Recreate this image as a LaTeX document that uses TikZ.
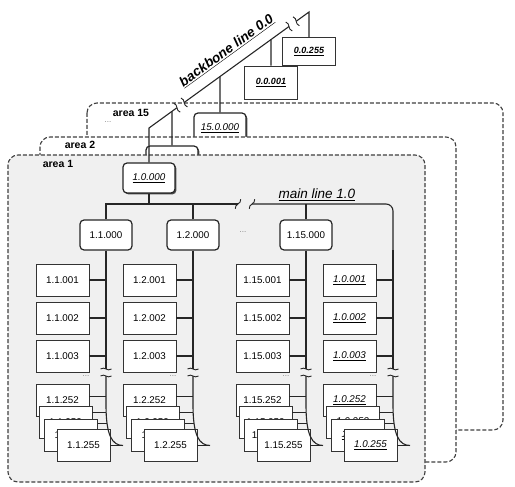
\documentclass[tikz,border=0pt]{standalone}
\usepackage{fontspec}
\setmainfont{Liberation Sans}
\usetikzlibrary{calc,shadows}

\newcommand{\itul}[1]{\textit{\underline{#1}}}

\tikzset{
  areabg/.style={draw=black!75, line width=1.1pt, dash pattern=on 4pt off 2pt, rounded corners=10pt},
  arealbl/.style={font=\fontsize{10.5}{12}\selectfont\bfseries},
  wire/.style={draw=black!85, line width=1.1pt},
  leaf/.style={draw=black!80, fill=white, line width=0.8pt, minimum width=53pt, minimum height=32pt, inner sep=0pt, font=\fontsize{9.8}{11}\selectfont},
  lvlbox/.style={draw=black!85, fill=white, line width=1.2pt, rounded corners=4pt, minimum width=52pt, minimum height=30pt, inner sep=0pt, font=\fontsize{9.8}{11}\selectfont},
  rootbox/.style={lvlbox, drop shadow={shadow xshift=1.4pt, shadow yshift=-1.4pt, fill=black!70, opacity=1}},
  bbbox/.style={draw=black!80, fill=white, line width=0.8pt, minimum width=53pt, minimum height=28pt, inner sep=0pt, font=\fontsize{9}{11}\selectfont\bfseries},
  ellip/.style={text=black!50, font=\fontsize{8}{9}\selectfont},
  brk/.pic={\draw[black!85, line width=0.9pt] (0,-5.5) .. controls (3,-1.5) and (-3,1.5) .. (0,5.5);}
}

\begin{document}
\begin{tikzpicture}[x=1pt, y=-1pt]
  \useasboundingbox (0,0) rectangle (515,487);

  %% area 15
  \draw[areabg, fill=white] (87,103) rectangle (503,430);
  \node[arealbl] (a15) at (131,113) {area 15};
  \node[ellip] (a15dots) at (108,122) {...};
  \node[rootbox] (root15) at (220,128) {\itul{15.0.000}};

  %% area 2
  \draw[areabg, fill=white] (40,137) rectangle (456,462);
  \node[arealbl] (a2) at (80,145) {area 2};
  \node[rootbox] (root2) at (172,161) {};

  %% area 1
  \draw[areabg, fill=black!6] (8,155) rectangle (425,482);
  \node[arealbl] (a1) at (58,164) {area 1};
  \node[rootbox] (root1) at (149,178) {\itul{1.0.000}};

  %% main line 1.0
  \node[lvlbox] (lv1) at (106,235) {1.1.000};
  \node[lvlbox] (lv2) at (193,235) {1.2.000};
  \node[lvlbox] (lv15) at (306,235) {1.15.000};
  \node[ellip] (lvdots) at (243,232) {...};
  \coordinate (lv10) at (393,250);
  \coordinate (mlA) at (238,204);
  \coordinate (mlB) at (252,204);
  \draw[wire] (lv1.north) |- (mlA);
  \draw[wire, rounded corners=7pt] (mlB) -| (lv10);
  \draw[wire] (root1.south) -- (root1.south |- mlA);
  \draw[wire] (lv2.north) -- (lv2.north |- mlA);
  \draw[wire] (lv15.north) -- (lv15.north |- mlA);
  \path pic[rotate=-30] at (mlA) {brk};
  \path pic[rotate=-30] at (mlB) {brk};
  \node[font=\fontsize{13.5}{15}\selectfont\itshape, anchor=base] (mltext) at (317,199) {\underline{main line 1.0}};

  %% columns
  \foreach \cx/\pre/\fmt/\bus [count=\i] in
    {106/1.1/\mbox/lv1.south, 193/1.2/\mbox/lv2.south,
     306/1.15/\mbox/lv15.south, 393/1.0/\itul/lv10}
  {
    \coordinate (bt) at (\cx,369);
    \coordinate (bb) at (\cx,376);
    \coordinate (be) at (\cx+17,445.5);
    \node[leaf] (c\i-1) at (\cx-43.5,280) {\fmt{\pre.001}};
    \node[leaf] (c\i-2) at (\cx-43.5,318) {\fmt{\pre.002}};
    \node[leaf] (c\i-3) at (\cx-43.5,356) {\fmt{\pre.003}};
    \draw[wire] (c\i-1.east) -- (c\i-1.east -| bt);
    \draw[wire] (c\i-2.east) -- (c\i-2.east -| bt);
    \draw[wire] (c\i-3.east) -- (c\i-3.east -| bt);
    \node[ellip] (d\i) at (\cx-20,376) {...};
    \node[leaf] (c\i-4) at (\cx-43.5,400) {\fmt{\pre.252}};
    \draw[wire] ($(c\i-4.north east)+(0,13)$) -- ($(c\i-4.north east -| bt)+(0,13)$);
    \node[leaf] (c\i-5) at (\cx-40.5,422) {\fmt{\pre.253}};
    \draw[wire] ($(c\i-5.north east)+(0,7)$) -- ($(c\i-5.north east -| bt)+(0.2,7)$);
    \node[leaf] (c\i-6) at (\cx-35,435) {\fmt{\pre.254}};
    \draw[wire] ($(c\i-6.north east)+(0,5)$) -- ($(c\i-6.north east -| bt)+(1.3,5)$);
    \node[leaf] (c\i-7) at (\cx-22.5,445.5) {\fmt{\pre.255}};
    \draw[wire] (c\i-7.east) -- (be);
    \draw[wire] (\bus) -- (bt);
    \draw[wire] (bb) -- (\cx,405) .. controls (\cx,435) and (\cx+6,445.5) .. (be);
    \path pic[rotate=90] at (bt) {brk};
    \path pic[rotate=90] at (bb) {brk};
  }

  %% backbone line 0.0
  \node[bbbox] (n255) at (309,51.5) {\itul{0.0.255}};
  \node[bbbox, minimum height=33pt] (n001) at (271,82.5) {\itul{0.0.001}};
  \coordinate (bb0) at (149,128);
  \coordinate (bbE) at (309,12);
  \coordinate (bbA) at ($(bb0)!0.175!(bbE)$);
  \coordinate (bbB) at ($(bb0)!0.22!(bbE)$);
  \coordinate (bbC) at ($(bb0)!0.875!(bbE)$);
  \coordinate (bbD) at ($(bb0)!0.92!(bbE)$);
  \draw[wire] (root1.north) -- (bb0) -- (bbA);
  \draw[wire] (bbB) -- (bbC);
  \draw[wire] (bbD) -- (bbE) -- (n255.north);
  \draw[wire] (root2.north) -- (intersection of bb0--bbE and root2.north--root2.south);
  \draw[wire] (root15.north) -- (intersection of bb0--bbE and root15.north--root15.south);
  \draw[wire] (n001.north) -- (intersection of bb0--bbE and n001.north--n001.south);
  \path pic[rotate=36] at (bbA) {brk};
  \path pic[rotate=36] at (bbB) {brk};
  \path pic[rotate=36] at (bbC) {brk};
  \path pic[rotate=36] at (bbD) {brk};
  \node[font=\fontsize{13.5}{15}\selectfont\bfseries\itshape, rotate=36, anchor=base] (bbtext) at (229,54) {\underline{backbone line 0.0}};

\end{tikzpicture}
\end{document}
